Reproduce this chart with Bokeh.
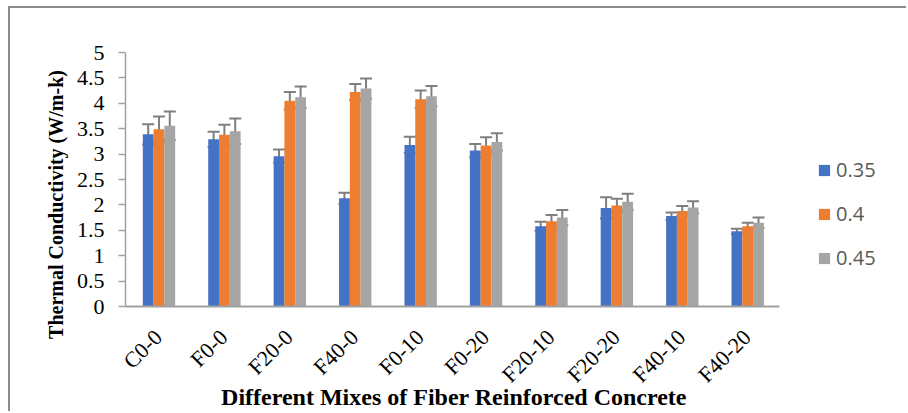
import math
from bokeh.plotting import figure
from bokeh.models import (ColumnDataSource, Range1d, Whisker, TeeHead, Legend, LegendItem,
                          FixedTicker, CustomJSTickFormatter)
from bokeh.transform import dodge
from bokeh.embed import file_html
from bokeh.resources import INLINE

mixes = ["C0-0", "F0-0", "F20-0", "F40-0", "F0-10", "F0-20", "F20-10", "F20-20", "F40-10", "F40-20"]
series_names = ["0.35", "0.4", "0.45"]
v035 = [3.39, 3.29, 2.96, 2.13, 3.18, 3.07, 1.58, 1.94, 1.78, 1.48]
v040 = [3.49, 3.38, 4.05, 4.22, 4.08, 3.17, 1.68, 1.99, 1.88, 1.58]
v045 = [3.56, 3.45, 4.12, 4.29, 4.14, 3.24, 1.75, 2.06, 1.95, 1.65]
e035 = [0.20, 0.15, 0.13, 0.11, 0.16, 0.13, 0.09, 0.21, 0.07, 0.05]
e040 = [0.25, 0.20, 0.17, 0.16, 0.17, 0.16, 0.12, 0.13, 0.10, 0.07]
e045 = [0.28, 0.25, 0.21, 0.20, 0.20, 0.17, 0.15, 0.16, 0.12, 0.10]
colors = ["#4472C4", "#ED7D31", "#A5A5A5"]
y_ticks = [0, 0.5, 1, 1.5, 2, 2.5, 3, 3.5, 4, 4.5, 5]

n = len(mixes)
xpos = [i + 0.5 for i in range(n)]

W, H = 898, 405
p = figure(x_range=Range1d(0, 11.97), y_range=(0, 5),
           width=W, height=H, output_backend="svg", toolbar_location=None,
           min_border_left=115, min_border_right=0, min_border_top=44, min_border_bottom=105)
p.styles = {"border-top": "2px solid #8c8c8c", "border-left": "2px solid #8c8c8c",
            "margin-left": "8px", "margin-top": "6px"}
p.outline_line_color = None
p.xgrid.grid_line_color = None
p.ygrid.grid_line_color = None

bw = 0.165
offsets = [-bw + 0.012, 0.012, bw + 0.012]
vals = [v035, v040, v045]
errs = [e035, e040, e045]
renderers = []
for i in range(3):
    src = ColumnDataSource(dict(x=xpos, top=vals[i],
                                upper=[a + b for a, b in zip(vals[i], errs[i])],
                                lower=[a - b for a, b in zip(vals[i], errs[i])]))
    r = p.vbar(x=dodge("x", offsets[i]), top="top", width=bw, source=src,
               fill_color=colors[i], line_color=None)
    renderers.append(r)
    wk = Whisker(base=dodge("x", offsets[i]), upper="upper", lower="lower", source=src,
                 line_color="#7f7f7f", line_width=2,
                 upper_head=TeeHead(size=12, line_color="#7f7f7f", line_width=2),
                 lower_head=TeeHead(size=12, line_color="#7f7f7f", line_width=2))
    p.add_layout(wk)

# axes
p.yaxis.ticker = FixedTicker(ticks=y_ticks)
p.yaxis.formatter = CustomJSTickFormatter(code="return tick.toString();")
p.yaxis.minor_tick_line_color = None
p.yaxis.major_tick_out = 7
p.yaxis.major_tick_in = 0
p.yaxis.axis_line_color = "#a0a0a0"
p.yaxis.major_tick_line_color = "#a0a0a0"
p.yaxis.axis_line_width = 1.5
p.yaxis.major_tick_line_width = 1.5
p.yaxis.major_label_standoff = 14
p.yaxis.major_label_text_font = "Liberation Serif"
p.yaxis.major_label_text_font_size = "22px"
p.yaxis.major_label_text_color = "#000000"
p.yaxis.axis_label = "Thermal Conductivity (W/m-k)" + "\u00a0" * 10
p.yaxis.axis_label_standoff = 7
p.yaxis.axis_label_text_font = "Liberation Serif"
p.yaxis.axis_label_text_font_style = "bold"
p.yaxis.axis_label_text_font_size = "20px"
p.yaxis.axis_label_text_color = "#000000"

p.xaxis.ticker = FixedTicker(ticks=xpos)
p.xaxis.major_label_overrides = {x: m for x, m in zip(xpos, mixes)}
p.xaxis.bounds = (0, n)
p.xaxis.axis_line_color = "#a0a0a0"
p.xaxis.axis_line_width = 2
p.xaxis.major_tick_line_color = None
p.xaxis.minor_tick_line_color = None
p.xaxis.major_label_orientation = math.pi / 4
p.xaxis.major_label_standoff = 21
p.xaxis.major_label_text_font = "Liberation Serif"
p.xaxis.major_label_text_font_size = "22px"
p.xaxis.major_label_text_color = "#000000"
p.xaxis.axis_label = "Different Mixes of Fiber Reinforced Concrete" + "\u00a0" * 21
p.xaxis.axis_label_standoff = -15
p.xaxis.axis_label_text_font = "Liberation Serif"
p.xaxis.axis_label_text_font_style = "bold"
p.xaxis.axis_label_text_font_size = "24px"
p.xaxis.axis_label_text_color = "#000000"

legend = Legend(items=[LegendItem(label=series_names[i], renderers=[renderers[i]]) for i in range(3)],
                location=(692, 35), orientation="vertical",
                glyph_width=14, glyph_height=14, label_height=20, spacing=17, padding=0, margin=0,
                label_standoff=5, border_line_color=None, background_fill_alpha=0,
                label_text_font="Open Sans", label_text_font_size="20px", label_text_color="#595959")
p.add_layout(legend, "center")

open("out.html", "w").write(file_html(p, INLINE))
